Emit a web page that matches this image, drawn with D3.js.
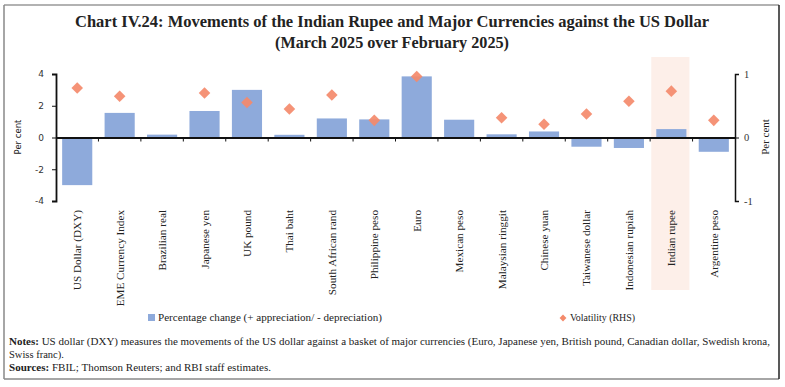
<!DOCTYPE html>
<meta charset="utf-8">
<script src="https://d3js.org/d3.v7.min.js"></script>
<style>
  body { margin: 0; background: white; }
  svg text { fill: #222; }
</style>
<div id="chart"></div>
<script>
// categories and values
var currencies = ["US Dollar (DXY)", "EME Currency Index", "Brazilian real", "Japanese yen",
  "UK pound", "Thai baht", "South African rand", "Philippine peso", "Euro", "Mexican peso",
  "Malaysian ringgit", "Chinese yuan", "Taiwanese dollar", "Indonesian rupiah",
  "Indian rupee", "Argentine peso"];
var pctChange = [-3.0, 1.55, 0.18, 1.67, 3.0, 0.17, 1.2, 1.14, 3.85, 1.12, 0.2, 0.38,
  -0.58, -0.66, 0.53, -0.9];
var volatility = [0.78, 0.65, null, 0.70, 0.55, 0.45, 0.67, 0.27, 0.96, null, 0.31, 0.21,
  0.37, 0.57, 0.73, 0.27];
var leftTicks = [-4, -2, 0, 2, 4];
var rightTicks = [-1, 0, 1];
var highlighted = "Indian rupee";

var W = 785, H = 387;
var svg = d3.select("#chart").append("svg").attr("width", W).attr("height", H);

// outer frame
svg.append("line").attr("x1", 4).attr("x2", 779).attr("y1", 5).attr("y2", 5).style("stroke", "#999").style("stroke-width", 1.5);
svg.append("line").attr("x1", 4).attr("x2", 779).attr("y1", 379).attr("y2", 379).style("stroke", "#888").style("stroke-width", 1.5);
svg.append("line").attr("x1", 4).attr("x2", 4).attr("y1", 5).attr("y2", 379).style("stroke", "#888").style("stroke-width", 1.5);
svg.append("line").attr("x1", 779).attr("x2", 779).attr("y1", 5).attr("y2", 379).style("stroke", "#222").style("stroke-width", 1.5);

// title
var serif = "'Liberation Serif', 'DejaVu Serif', serif";
svg.append("text").attr("x", 392).attr("y", 27).attr("text-anchor", "middle")
  .style("font-family", serif).style("font-weight", "bold").style("font-size", "16px")
  .attr("textLength", 634).attr("lengthAdjust", "spacingAndGlyphs")
  .text("Chart IV.24: Movements of the Indian Rupee and Major Currencies against the US Dollar");
svg.append("text").attr("x", 392).attr("y", 48).attr("text-anchor", "middle")
  .style("font-family", serif).style("font-weight", "bold").style("font-size", "16px")
  .attr("textLength", 234).attr("lengthAdjust", "spacingAndGlyphs")
  .text("(March 2025 over February 2025)");

var x0 = 56, x1 = 735, yTop = 74, yBot = 201;
var x = d3.scaleBand().domain(currencies).range([x0, x1]).paddingInner(0.29).paddingOuter(0.145);
var xb = d3.scaleBand().domain(currencies).range([x0, x1]);
var yL = d3.scaleLinear().domain([-4, 4]).range([yBot, yTop]);
var yR = d3.scaleLinear().domain([-1, 1]).range([yBot, yTop]);
var plain = function(d) { return String(d); };

// highlight band for Indian rupee
svg.append("rect")
  .attr("x", x(highlighted) - 5).attr("width", x.bandwidth() + 8)
  .attr("y", 57).attr("height", 233)
  .style("fill", "#fdefe9");

// bars
svg.append("g").selectAll("rect").data(currencies).enter().append("rect")
  .attr("x", function(d) { return x(d); })
  .attr("width", x.bandwidth())
  .attr("y", function(d, i) { return yL(Math.max(0, pctChange[i])); })
  .attr("height", function(d, i) { return Math.abs(yL(pctChange[i]) - yL(0)); })
  .style("fill", "#8eaadb");

// left axis
var gL = svg.append("g").attr("transform", "translate(" + x0 + ",0)")
  .call(d3.axisLeft(yL).tickValues(leftTicks).tickFormat(plain).tickSize(4).tickPadding(8));
gL.select(".domain").style("stroke", "#111").style("stroke-width", 1.8);
gL.selectAll(".tick line").style("stroke", "#111");
gL.selectAll("text").style("font-family", "'DejaVu Sans', Verdana, sans-serif").style("font-size", "9px").style("fill", "#333");

// right axis
var gR = svg.append("g").attr("transform", "translate(" + x1 + ",0)")
  .call(d3.axisRight(yR).tickValues(rightTicks).tickFormat(plain).tickSize(4).tickPadding(5));
gR.select(".domain").style("stroke", "#111").style("stroke-width", 1.5);
gR.selectAll(".tick line").style("stroke", "#111");
gR.selectAll("text").style("font-family", serif).style("font-size", "10.5px").style("fill", "#333");

// zero line with category ticks
var gX = svg.append("g").attr("transform", "translate(0," + yL(0) + ")")
  .call(d3.axisBottom(xb).tickSize(0).tickFormat(""));
gX.select(".domain").style("stroke", "#111").style("stroke-width", 1.8);
svg.append("g").selectAll("line").data(currencies.slice(1)).enter().append("line")
  .attr("x1", function(d) { return xb(d); }).attr("x2", function(d) { return xb(d); })
  .attr("y1", yL(0)).attr("y2", yL(0) + 4)
  .style("stroke", "#111");

// diamonds
svg.append("g").selectAll("path").data(currencies.filter(function(d, i) { return volatility[i] != null; }))
  .enter().append("path")
  .attr("d", d3.symbol().type(d3.symbolDiamond2).size(85))
  .attr("transform", function(d) {
    var i = currencies.indexOf(d);
    return "translate(" + (xb(d) + xb.bandwidth() / 2) + "," + yR(volatility[i]) + ")";
  })
  .style("fill", "#f48a6b").style("opacity", 0.92);

// category labels
svg.append("g").selectAll("text").data(currencies).enter().append("text")
  .attr("transform", function(d) { return "translate(" + (xb(d) + xb.bandwidth() / 2 + 4) + ",210) rotate(-90)"; })
  .attr("text-anchor", "end")
  .style("font-family", serif).style("font-size", "11.2px")
  .text(function(d) { return d; });

// axis titles
svg.append("text").attr("transform", "translate(21,137) rotate(-90)").attr("text-anchor", "middle")
  .style("font-family", "'DejaVu Sans', Verdana, sans-serif").style("font-size", "8.5px").text("Per cent");
svg.append("text").attr("transform", "translate(769,137) rotate(-90)").attr("text-anchor", "middle")
  .style("font-family", serif).style("font-size", "11px").text("Per cent");

// legend
svg.append("rect").attr("x", 148).attr("y", 314).attr("width", 7).attr("height", 7).style("fill", "#8eaadb");
svg.append("text").attr("x", 158).attr("y", 321).style("font-family", serif).style("font-size", "10.5px")
  .attr("textLength", 224).attr("lengthAdjust", "spacingAndGlyphs")
  .text("Percentage change (+ appreciation/ - depreciation)");
svg.append("path").attr("d", d3.symbol().type(d3.symbolDiamond2).size(30))
  .attr("transform", "translate(563,318)").style("fill", "#f48a6b");
svg.append("text").attr("x", 570).attr("y", 321).style("font-family", serif).style("font-size", "10.5px")
  .attr("textLength", 65).attr("lengthAdjust", "spacingAndGlyphs")
  .text("Volatility (RHS)");

// notes
var notes = svg.append("g").style("font-family", serif).style("font-size", "10.5px");
var n1 = notes.append("text").attr("x", 9).attr("y", 345).attr("textLength", 761).attr("lengthAdjust", "spacingAndGlyphs");
n1.append("tspan").style("font-weight", "bold").text("Notes: ");
n1.append("tspan").text("US dollar (DXY) measures the movements of the US dollar against a basket of major currencies (Euro, Japanese yen, British pound, Canadian dollar, Swedish krona,");
notes.append("text").attr("x", 9).attr("y", 358).text("Swiss franc).");
var n3 = notes.append("text").attr("x", 9).attr("y", 371).attr("textLength", 262).attr("lengthAdjust", "spacingAndGlyphs");
n3.append("tspan").style("font-weight", "bold").text("Sources: ");
n3.append("tspan").text("FBIL; Thomson Reuters; and RBI staff estimates.");
</script>
